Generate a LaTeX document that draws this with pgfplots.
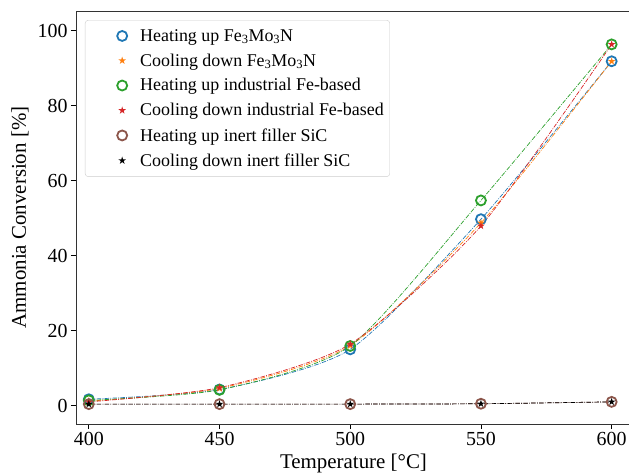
\documentclass[border=0pt]{standalone}
\usepackage{fontspec}
\setmainfont{Liberation Serif}
\usepackage{pgfplots}
\pgfplotsset{compat=1.18}
\definecolor{tabblue}{HTML}{1F77B4}
\definecolor{taborange}{HTML}{FF7F0E}
\definecolor{tabgreen}{HTML}{2CA02C}
\definecolor{tabred}{HTML}{D62728}
\definecolor{tabbrown}{HTML}{8C564B}
\pgfdeclareplotmark{fstar}{%
  \pgfpathmoveto{\pgfpointpolar{90}{\pgfplotmarksize}}%
  \pgfpathlineto{\pgfpointpolar{126}{0.382\pgfplotmarksize}}%
  \pgfpathlineto{\pgfpointpolar{162}{\pgfplotmarksize}}%
  \pgfpathlineto{\pgfpointpolar{198}{0.382\pgfplotmarksize}}%
  \pgfpathlineto{\pgfpointpolar{234}{\pgfplotmarksize}}%
  \pgfpathlineto{\pgfpointpolar{270}{0.382\pgfplotmarksize}}%
  \pgfpathlineto{\pgfpointpolar{306}{\pgfplotmarksize}}%
  \pgfpathlineto{\pgfpointpolar{342}{0.382\pgfplotmarksize}}%
  \pgfpathlineto{\pgfpointpolar{18}{\pgfplotmarksize}}%
  \pgfpathlineto{\pgfpointpolar{54}{0.382\pgfplotmarksize}}%
  \pgfpathclose\pgfusepathqfill}
\tikzset{dd/.style={line width=0.7bp, dash pattern=on 4.5bp off 1.3bp on 0.8bp off 1.3bp, smooth, tension=0.4, no marks}}
\begin{document}
\begin{tikzpicture}
\begin{axis}[name=ax, scale only axis, width=555bp, height=413bp,
  xmin=395.1, xmax=607.4, ymin=-4.9, ymax=105.2,
  xtick={400,450,...,600}, ytick={0,20,...,100},
  tick align=outside, xtick pos=left, ytick pos=left,
  major tick length=5bp, tick style={black, line width=0.8bp},
  axis line style={line width=0.8bp, black!80},
  /pgf/number format/assume math mode=true,
  /pgf/number format/1000 sep={},
  tick label style={font=\fontsize{20}{24}\selectfont},
  label style={font=\fontsize{21}{25}\selectfont},
  xlabel={Temperature [°C]}, ylabel={Ammonia Conversion [\%]},
  xlabel style={at={(axis description cs:0.5,-0.0944)}, anchor=center},
  ylabel style={at={(axis description cs:-0.101,0.5)}, anchor=center},
  legend style={at={(axis description cs:0.0162,0.978)}, anchor=north west,
    draw=black!20, rounded corners=3bp, fill=white,
    font=\fontsize{18}{21}\selectfont, row sep=7bp, inner xsep=4bp, inner ysep=7bp},
  legend cell align=left,
  legend image code/.code={\path[draw=none] (0,0) -- (49bp,0); \draw[#1, only marks] plot coordinates {(33bp,0bp)};},
]
\addplot[tabblue, dd, forget plot] coordinates {(400,1.7)(450,4.3)(500,15.0)(550,49.7)(600,91.8)};
\addplot[taborange, dd, forget plot] coordinates {(400,1.2)(450,4.6)(500,16.0)(550,48.7)(600,91.8)};
\addplot[tabgreen, dd, forget plot] coordinates {(400,1.4)(450,4.2)(500,15.9)(550,54.7)(600,96.3)};
\addplot[tabred, dd, forget plot] coordinates {(400,1.0)(450,4.8)(500,16.4)(550,47.9)(600,96.3)};
\addplot[tabbrown, dd, forget plot] coordinates {(400,0.4)(450,0.4)(500,0.4)(550,0.5)(600,1.0)};
\addplot[black, dd, forget plot] coordinates {(400,0.4)(450,0.4)(500,0.4)(550,0.5)(600,1.0)};
\addplot[only marks, mark=o, mark size=5bp, tabblue, line width=1.8bp] coordinates {(400,1.7)(450,4.3)(500,15.0)(550,49.7)(600,91.8)};
\addlegendentry{Heating up Fe\textsubscript{3}Mo\textsubscript{3}N}
\addplot[only marks, mark=fstar, mark size=4bp, taborange] coordinates {(400,1.2)(450,4.6)(500,16.0)(550,48.7)(600,91.8)};
\addlegendentry{Cooling down Fe\textsubscript{3}Mo\textsubscript{3}N}
\addplot[only marks, mark=o, mark size=5bp, tabgreen, line width=1.8bp] coordinates {(400,1.4)(450,4.2)(500,15.9)(550,54.7)(600,96.3)};
\addlegendentry{Heating up industrial Fe-based}
\addplot[only marks, mark=fstar, mark size=4bp, tabred] coordinates {(400,1.0)(450,4.8)(500,16.4)(550,47.9)(600,96.3)};
\addlegendentry{Cooling down industrial Fe-based}
\addplot[only marks, mark=o, mark size=5bp, tabbrown, line width=1.8bp] coordinates {(400,0.4)(450,0.4)(500,0.4)(550,0.5)(600,1.0)};
\addlegendentry{Heating up inert filler SiC}
\addplot[only marks, mark=fstar, mark size=4bp, black] coordinates {(400,0.4)(450,0.4)(500,0.4)(550,0.5)(600,1.0)};
\addlegendentry{Cooling down inert filler SiC}
\end{axis}
\pgfresetboundingbox
\path[use as bounding box] ([xshift=-76bp,yshift=-51bp]ax.south west) rectangle ([xshift=-2bp,yshift=11bp]ax.north east);
\end{tikzpicture}
\end{document}
